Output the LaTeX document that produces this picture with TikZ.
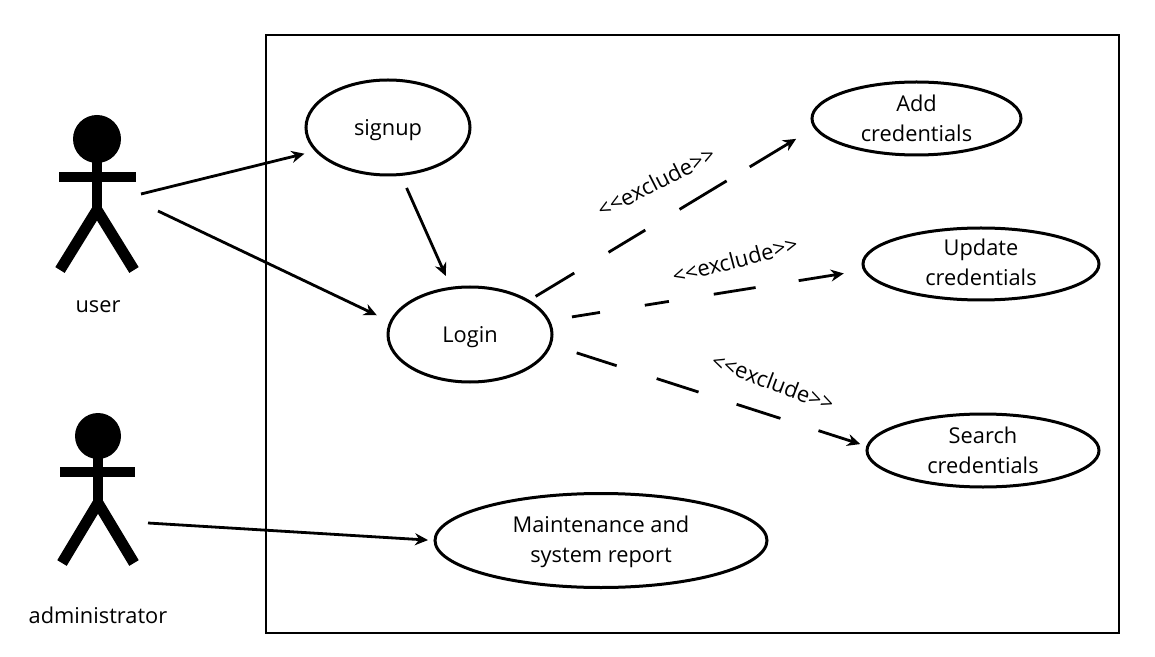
\documentclass[tikz,border=0pt]{standalone}
\usepackage{fontspec}
\setmainfont{Open Sans}
\usetikzlibrary{arrows.meta,shapes.geometric}
\tikzset{
  usecase/.style={draw,ellipse,line width=1.5pt,inner sep=0pt,outer sep=0pt,align=center,font=\fontsize{10.9}{15}\selectfont},
  conn/.style={line width=1.4pt,-{Stealth[length=6.5pt,width=6pt]}},
  limb/.style={line width=5pt},
  head/.style={circle,fill=black,inner sep=0pt,minimum size=24pt},
  tag/.style={font=\fontsize{10.9}{15}\selectfont},
  stereo/.style={font=\fontsize{11}{12}\selectfont,inner sep=0pt}
}
\begin{document}
\begin{tikzpicture}[x=0.5pt,y=-0.5pt]
\useasboundingbox (0,0) rectangle (1155,657);
\draw[line width=1pt] (266,35) rectangle (1119,633);
% use cases
\node[usecase,minimum width=82pt,minimum height=47.5pt,text height=11pt] (signup) at (388,127.5) {signup};
\node[usecase,minimum width=82pt,minimum height=47.5pt,text height=11pt] (login) at (470,334.5) {Login};
\node[usecase,minimum width=104.5pt,minimum height=36.5pt] (add) at (916.5,118.5) {Add\\credentials};
\node[usecase,minimum width=118pt,minimum height=36pt,inner ysep=-2pt] (update) at (981,264) {Update\\\rule[-2pt]{0pt}{0pt}credentials};
\node[usecase,minimum width=116pt,minimum height=36.5pt] (search) at (983,450.5) {Search\\credentials};
\node[usecase,minimum width=166pt,minimum height=47pt] (report) at (601,540.5) {\rule{0pt}{10pt}Maintenance and\\system report};
% user
\node[head] (userhead) at (97,139) {};
\draw[limb] (userhead.center) -- (97,210);
\draw[limb] (59,177) -- (136,177);
\draw[limb,line width=5.5pt] (60,270) -- (97,210) -- (134,270);
\node[tag] (user) at (98,307) {user};
% administrator
\node[head,minimum size=23pt] (adminhead) at (98,436) {};
\draw[limb] (adminhead.center) -- (98,503);
\draw[limb] (60,472) -- (135,472);
\draw[limb,line width=5.5pt] (62,563) -- (98,503) -- (134,563);
\node[tag] (admin) at (98,615) {administrator};
% free ends at the actors
\coordinate (userA) at (141,194);
\coordinate (userB) at (158,211);
\coordinate (adminA) at (148,523);
% connectors
\draw[conn,shorten >=6.2pt] (userA) -- (signup.198.7);
\draw[conn,shorten >=7.8pt] (userB) -- (login.171.6);
\draw[conn,shorten <=7.4pt,shorten >=6.7pt] (signup.285.5) -- (login.112.4);
\draw[conn,shorten >=3.5pt] (adminA) -- (report.west);
\draw[conn,shorten <=4.4pt,shorten >=11.1pt,dash pattern=on 22.6pt off 20pt on 21.5pt off 20pt on 27.5pt off 13.5pt on 100pt off 0pt] (login.30.6) -- (add.185.1);
\draw[conn,shorten <=11.9pt,shorten >=10.6pt,dash pattern=on 14.2pt off 22.7pt on 12.2pt off 22.7pt on 21.2pt off 21.8pt on 100pt off 0pt] (login.10) -- (update.183.9);
\draw[conn,shorten <=13.9pt,shorten >=3.9pt,dash pattern=on 21pt off 21pt on 22pt off 20pt on 23pt off 20pt on 100pt off 0pt] (login.353.6) -- (search.178);
% stereotypes
\node[stereo,rotate=27] (ex1) at (656,182) {<{}<exclude>{}>};
\node[stereo,rotate=14.8] (ex2) at (735,260) {<{}<exclude>{}>};
\node[stereo,rotate=-20.6] (ex3) at (773,382) {<{}<exclude>{}>};
\end{tikzpicture}
\end{document}
